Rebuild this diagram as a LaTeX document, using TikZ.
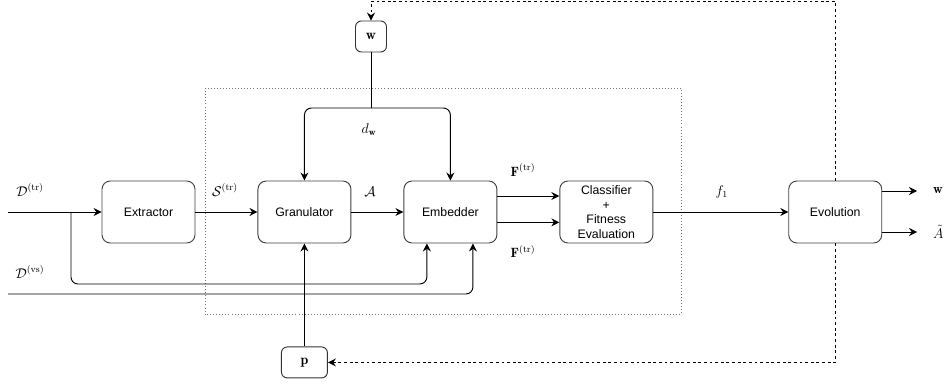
\documentclass[tikz,border=0pt]{standalone}
\usepackage{amsmath}
\usepackage{fontspec}
\setsansfont{Liberation Sans}
\usetikzlibrary{positioning}
\usetikzlibrary{arrows.meta}
\usetikzlibrary{calc}
\tikzset{
	block/.style={
		draw=black!75,
		line width=0.8pt,
		rounded corners=7pt,
		minimum width=2.79cm,
		minimum height=1.86cm,
		align=center,
		font=\sffamily\fontsize{10.5}{12.4}\selectfont},
	param/.style={
		draw=black!80,
		line width=0.8pt,
		rounded corners=5pt,
		minimum width=0.93cm,
		minimum height=0.93cm,
		inner sep=0pt,
		font=\fontsize{12}{14}\selectfont},
	link/.style={
		line width=0.8pt,
		-{Stealth[length=2.4mm,width=2.4mm,inset=0.8mm]},
		rounded corners=6pt},
	wire/.style={
		line width=0.8pt},
	feedback/.style={
		link,
		rounded corners=0pt,
		dash pattern=on 2.4pt off 2.4pt},
	boundary/.style={
		draw=black!55,
		line width=0.6pt,
		dotted},
	lab/.style={
		inner sep=1pt,
		font=\fontsize{11.5}{13}\selectfont}
}

\begin{document}
\begin{tikzpicture}
	\useasboundingbox (0,0) rectangle (28.47,11.49);
	% processing chain
	\node[block] (ext) at (4.455,5.13) {Extractor};
	\node[block, right=1.86cm of ext] (gran) {Granulator};
	\node[block, right=1.56cm of gran] (emb) {Embedder};
	\node[block, right=1.86cm of emb] (cls) {Classifier\\+\\Fitness\\Evaluation};
	\node[block, right=4.05cm of cls] (evo) {Evolution};
	\node[param] (w) at (11.13,10.395) {$\mathbf{w}$};
	\node[param, minimum width=1.38cm, below=3.09cm of gran] (p) {$\mathbf{p}$};
	% optimised part
	\draw[boundary] (6.17,2.06) rectangle (20.43,8.85);
	% helper points
	\coordinate (in) at (0.24,5.13);
	\coordinate (split) at (2.13,5.13);
	\coordinate (vsbus) at (0,2.97);
	\coordinate (vsin) at (0.24,2.67);
	\coordinate (wsplit) at (11.13,8.25);
	\coordinate (topline) at (20,11.46);
	\coordinate (e1) at ($(emb.south west)!0.25!(emb.south east)$);
	\coordinate (e2) at ($(emb.south west)!0.74!(emb.south east)$);
	\coordinate (wend) at (27.51,5.76);
	\coordinate (aend) at (27.51,4.53);
	% labels
	\node[lab] (dtr) at (0.9,5.79) {$\mathcal{D}^{(\text{tr})}$};
	\node[lab] (dvs) at (0.9,3.33) {$\mathcal{D}^{(\text{vs})}$};
	\node[lab] (str) at (6.75,5.79) {$\mathcal{S}^{(\text{tr})}$};
	\node[lab] (alpha) at (11.1,5.73) {$\mathcal{A}$};
	\node[lab] (dw) at (11.07,7.59) {$d_{\mathbf{w}}$};
	\node[lab] (ftop) at (15.69,6.39) {$\mathbf{F}^{(\text{tr})}$};
	\node[lab] (fbot) at (15.69,3.94) {$\mathbf{F}^{(\text{tr})}$};
	\node[lab] (fit) at (21.65,5.73) {$f_1$};
	\node[lab, anchor=west] (wres) at (27.95,5.76) {$\mathbf{w}$};
	\node[lab, anchor=west] (ares) at (27.95,4.53) {$\tilde{A}$};
	% data flow
	\draw[link] (in) -- (ext);
	\draw[link] (split) -- (split |- vsbus) -| (e1);
	\draw[link] (vsin) -| (e2);
	\draw[link] (ext) -- (gran);
	\draw[link] (gran) -- (emb);
	\draw[link] ($(emb.east)+(0,0.48)$) -- ($(cls.west)+(0,0.48)$);
	\draw[link] ($(emb.east)+(0,-0.31)$) -- ($(cls.west)+(0,-0.31)$);
	\draw[link] (cls) -- (evo);
	\draw[link] (evo.east |- wend) -- (wend);
	\draw[link] (evo.east |- aend) -- (aend);
	\draw[wire] (w) -- (wsplit);
	\draw[link] (wsplit) -| (gran);
	\draw[link] (wsplit) -| (emb);
	\draw[link] (p) -- (gran);
	% feedback of the parameters
	\draw[feedback] (evo) |- (topline) -| (w);
	\draw[feedback] (evo) |- (p);
\end{tikzpicture}
\end{document}
